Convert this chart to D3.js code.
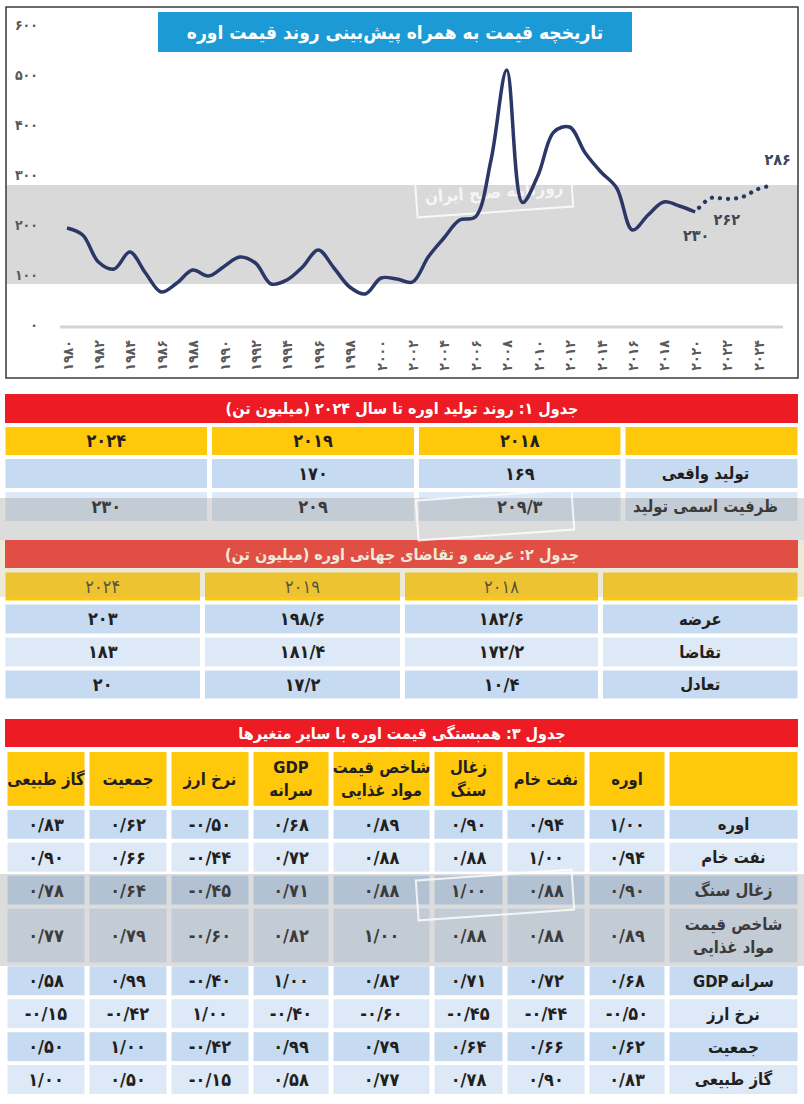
<!DOCTYPE html>
<html><head><meta charset="utf-8">
<script src="https://cdn.jsdelivr.net/npm/d3@7"></script>
<style>
html,body{margin:0;padding:0;background:#fff;}
svg{display:block;font-family:"DejaVu Sans Condensed","DejaVu Sans",sans-serif;}
</style></head><body>
<svg id="c" width="804" height="1104"></svg>
<script>
// ---------- DATA ----------
const chartTitle = "تاریخچه قیمت به همراه پیش‌بینی روند قیمت اوره";
const years = d3.range(1980, 2021);
const prices = [194,180,126,112,146,104,66,84,110,98,117,136,124,82,90,116,150,114,76,62,94,92,86,136,174,210,216,330,510,245,300,386,396,344,306,274,190,220,246,238,226];
const forecastYears = [2020,2021,2022,2023,2024,2025];
const forecastPrices = [226,254,252,256,272,280];
const priceLabels = [230,262,286];
const priceLabelYears = [2020,2022,2025];
const yTicks = [0,100,200,300,400,500,600];
const xTicks = d3.range(1980, 2025, 2);

const t1Title = "جدول ۱: روند تولید اوره تا سال ۲۰۲۴ (میلیون تن)";
const t1Cols = [2018, 2019, 2024];
const t1Rows = ["تولید واقعی", "ظرفیت اسمی تولید"];
const t1Values = [[169, 170, null], [209.3, 209, 230]];

const t2Title = "جدول ۲: عرضه و تقاضای جهانی اوره (میلیون تن)";
const t2Cols = [2018, 2019, 2024];
const t2Rows = ["عرضه", "تقاضا", "تعادل"];
const t2Values = [[182.6, 198.6, 203], [172.2, 181.4, 183], [10.4, 17.2, 20]];

const t3Title = "جدول ۳: همبستگی قیمت اوره با سایر متغیرها";
const t3Head = [["اوره"],["نفت خام"],["زغال","سنگ"],["شاخص قیمت","مواد غذایی"],["GDP","سرانه"],["نرخ ارز"],["جمعیت"],["گاز طبیعی"]];
// a line given as [latin, persian] is drawn with the latin part on the left
const t3RowLabels = [["اوره"],["نفت خام"],["زغال سنگ"],["شاخص قیمت","مواد غذایی"],[["GDP","سرانه"]],["نرخ ارز"],["جمعیت"],["گاز طبیعی"]];
const t3Values = [
  [1.00, 0.94, 0.90, 0.89, 0.68, -0.50, 0.62, 0.83],
  [0.94, 1.00, 0.88, 0.88, 0.72, -0.44, 0.66, 0.90],
  [0.90, 0.88, 1.00, 0.88, 0.71, -0.45, 0.64, 0.78],
  [0.89, 0.88, 0.88, 1.00, 0.82, -0.60, 0.79, 0.77],
  [0.68, 0.72, 0.71, 0.82, 1.00, -0.40, 0.99, 0.58],
  [-0.50, -0.44, -0.45, -0.60, -0.40, 1.00, -0.42, -0.15],
  [0.62, 0.66, 0.64, 0.79, 0.99, -0.42, 1.00, 0.50],
  [0.83, 0.90, 0.78, 0.77, 0.58, -0.15, 0.50, 1.00]
];
const stampText = "روزنامه صبح ایران";

// ---------- HELPERS ----------
const faDigits = "۰۱۲۳۴۵۶۷۸۹";
const fa = s => String(s).replace(/[0-9]/g, d => faDigits[+d]).replace(/\./g, "/");
const LTR = s => "\u202A" + s + "\u202C";
const RTL = s => "\u202B" + s + "\u202C";
const fmt1 = v => v == null ? "" : LTR(fa(Number.isInteger(v) ? v : v.toFixed(1)));
const fmt2 = v => LTR(fa(v.toFixed(2)));

const C = {
  navy: "#2b3766", red: "#ed1c24", yellow: "#ffc80a",
  blueMid: "#c6dbf1", blueLight: "#dde9f6", blueTitle: "#1b9ad6",
  text: "#231f20", axis: "#58595b"
};

const svg = d3.select("#c");

// ---------- CHART ----------
const x = d3.scaleLinear().domain([1980, 2024]).range([67, 758]);
const y = d3.scaleLinear().domain([0, 600]).range([325, 25]);
const chart = svg.append("g");

chart.append("rect").attr("x", 6).attr("y", y(280)).attr("width", 792).attr("height", y(82) - y(280)).attr("fill", "#d9d9da");

function stamp(g, cx, cy, withText) {
  const s = g.append("g").attr("transform", `translate(${cx},${cy}) rotate(-4)`);
  s.append("rect").attr("x", -78).attr("y", -20).attr("width", 156).attr("height", 40)
    .attr("fill", "none").attr("stroke", "#ffffff").attr("stroke-opacity", 0.8).attr("stroke-width", 2);
  if (withText) s.append("text").attr("text-anchor", "middle").attr("dy", "0.35em").attr("direction", "rtl")
    .attr("font-size", 17).attr("font-weight", "bold").attr("fill", "#ffffff").attr("fill-opacity", 0.75)
    .text(RTL(stampText));
}
stamp(chart, 494, 192, true);

chart.append("line").attr("x1", 60).attr("x2", 783).attr("y1", y(0) + 2).attr("y2", y(0) + 2)
  .attr("stroke", "#d3d3d3").attr("stroke-width", 3);

// y axis
const yAxis = chart.append("g").attr("transform", "translate(38,0)")
  .call(d3.axisLeft(y).tickValues(yTicks).tickSize(0).tickFormat(d => fa(d)));
yAxis.select(".domain").remove();
yAxis.selectAll("text").attr("x", 0).attr("text-anchor", "end").attr("fill", C.axis)
  .attr("font-size", 14).attr("font-weight", "bold").attr("font-family", "DejaVu Sans Condensed, DejaVu Sans");

// x axis
const xAxis = chart.append("g").attr("transform", "translate(0,340)")
  .call(d3.axisBottom(x).tickValues(xTicks).tickSize(0).tickFormat(d => fa(d)));
xAxis.select(".domain").remove();
xAxis.selectAll("text").attr("transform", "rotate(-90)").attr("text-anchor", "end")
  .attr("x", 0).attr("y", 0).attr("dy", "0.36em").attr("fill", C.axis)
  .attr("font-size", 14).attr("font-weight", "bold").attr("font-family", "DejaVu Sans Condensed, DejaVu Sans");

// lines
const line = d3.line().x(d => x(d[0])).y(d => y(d[1])).curve(d3.curveCatmullRom.alpha(0.5));
chart.append("path").datum(d3.zip(years, prices)).attr("d", line)
  .attr("fill", "none").attr("stroke", C.navy).attr("stroke-width", 3.5).attr("stroke-linejoin", "round");
chart.append("path").datum(d3.zip(forecastYears, forecastPrices)).attr("d", line)
  .attr("fill", "none").attr("stroke", C.navy).attr("stroke-width", 4.2)
  .attr("stroke-dasharray", "0.1 8").attr("stroke-dashoffset", -6).attr("stroke-linecap", "round");

const labelOffsets = [[1, 15], [0.2, 12], [4, -34]];
chart.selectAll(".plab").data(priceLabels).join("text")
  .attr("x", (d, i) => x(priceLabelYears[i]) + labelOffsets[i][0])
  .attr("y", (d, i) => y(forecastPrices[forecastYears.indexOf(priceLabelYears[i])]) + labelOffsets[i][1] + 14)
  .attr("text-anchor", "middle").attr("font-size", 16).attr("font-weight", "bold").attr("fill", "#3c4659")
  .text(d => fa(d));

// title box
chart.append("rect").attr("x", 158).attr("y", 12).attr("width", 474).attr("height", 40).attr("fill", C.blueTitle);
chart.append("text").attr("x", 395).attr("y", 32).attr("dy", "0.36em").attr("text-anchor", "middle")
  .attr("direction", "rtl").attr("font-size", 19).attr("font-weight", "bold").attr("fill", "#fff").text(RTL(chartTitle));

// frame
chart.append("rect").attr("x", 6).attr("y", 7).attr("width", 792).attr("height", 371)
  .attr("fill", "none").attr("stroke", "#3a3a3a").attr("stroke-width", 1.5);

// ---------- TABLES ----------
function bands(weights, r0, r1) {
  const cum = [0, ...d3.cumsum(weights)];
  const s = d3.scaleLinear().domain([0, cum[cum.length - 1]]).range([r0, r1]);
  return weights.map((w, i) => [s(cum[i]), s(cum[i + 1])]);
}
function titleBar(g, y0, y1, txt, fill) {
  g.append("rect").attr("x", 5).attr("y", y0).attr("width", 793).attr("height", y1 - y0).attr("fill", fill || C.red);
  g.append("text").attr("x", 402).attr("y", (y0 + y1) / 2).attr("dy", "0.36em").attr("text-anchor", "middle")
    .attr("direction", "rtl").attr("font-size", 16).attr("font-weight", "bold").attr("fill", "#fff").text(RTL(txt));
}
function drawGrid(g, colB, rowB, cells, gapX, gapY) {
  const gg = g.append("g");
  cells.forEach(cell => {
    const [ca, cb] = colB[cell.c];
    const [ra, rb] = rowB[cell.r];
    const xl = Math.min(ca, cb) + gapX / 2, xr = Math.max(ca, cb) - gapX / 2;
    const yt = ra + gapY / 2, yb = rb - gapY / 2;
    gg.append("rect").attr("x", xl).attr("y", yt).attr("width", xr - xl).attr("height", yb - yt).attr("fill", cell.fill);
    const n = cell.lines.length;
    const fs = cell.num ? 18 : 16.5;
    cell.lines.forEach((ln, k) => {
      const cx = (xl + xr) / 2 + (cell.dx || 0);
      const cy = (yt + yb) / 2 + (k - (n - 1) / 2) * 23;
      const mk = (xx, anchor, txt, dir) => gg.append("text").attr("x", xx).attr("y", cy)
        .attr("dy", "0.36em").attr("text-anchor", anchor).attr("direction", dir)
        .attr("font-size", fs).attr("font-weight", cell.bold === false ? "normal" : "bold")
        .attr("fill", C.text).text(txt);
      if (Array.isArray(ln)) {
        // [latin, persian]: latin on the left, persian on the right
        const a = mk(0, "start", LTR(ln[0]), "ltr");
        const b = mk(0, "start", RTL(ln[1]), "ltr");
        const wa = a.node().getComputedTextLength(), wb = b.node().getComputedTextLength();
        const sp = 2, left = cx - (wa + sp + wb) / 2;
        a.attr("x", left);
        b.attr("x", left + wa + sp);
      } else {
        mk(cx, "middle", cell.num ? ln : RTL(ln), cell.num ? "ltr" : "rtl");
      }
    });
  });
}

const tables = svg.append("g");

// Table 1
titleBar(tables, 394, 423, t1Title);
{
  const colB = bands([177, 206.5, 207, 206.5], 800, 3);
  const rowB = bands([32, 33, 33], 425, 523);
  const cells = [{ r: 0, c: 0, fill: C.yellow, lines: [] }];
  t1Cols.forEach((yr, j) => cells.push({ r: 0, c: j + 1, fill: C.yellow, lines: [LTR(fa(yr))], num: true }));
  t1Rows.forEach((lab, i) => {
    const fill = i % 2 === 0 ? C.blueMid : C.blueLight;
    cells.push({ r: i + 1, c: 0, fill, lines: [lab], dx: -6 });
    t1Values[i].forEach((v, j) => cells.push({ r: i + 1, c: j + 1, fill, lines: [fmt1(v)], num: true }));
  });
  drawGrid(tables, colB, rowB, cells, 5, 4);
}

// Table 2
titleBar(tables, 540, 568, t2Title);
{
  const colB = bands([199.5, 198, 200, 199.5], 800, 3);
  const rowB = bands([32, 33, 33, 32], 570.5, 700.5);
  const cells = [{ r: 0, c: 0, fill: C.yellow, lines: [] }];
  t2Cols.forEach((yr, j) => cells.push({ r: 0, c: j + 1, fill: C.yellow, lines: [LTR(fa(yr))], num: true, bold: false }));
  t2Rows.forEach((lab, i) => {
    const fill = i % 2 === 0 ? C.blueMid : C.blueLight;
    cells.push({ r: i + 1, c: 0, fill, lines: [lab] });
    t2Values[i].forEach((v, j) => cells.push({ r: i + 1, c: j + 1, fill, lines: [fmt1(v)], num: true }));
  });
  drawGrid(tables, colB, rowB, cells, 5, 4);
}

// Table 3
titleBar(tables, 719, 747, t3Title);
{
  const colB = bands([133, 80, 82, 73, 101, 80, 82, 82, 82], 800, 5);
  const rowB = bands([58, 33, 33, 33, 58, 33, 33, 33, 33], 750, 1096);
  const cells = [{ r: 0, c: 0, fill: C.yellow, lines: [] }];
  t3Head.forEach((h, j) => cells.push({ r: 0, c: j + 1, fill: C.yellow, lines: h }));
  t3RowLabels.forEach((lab, i) => {
    const fill = i % 2 === 0 ? C.blueMid : C.blueLight;
    cells.push({ r: i + 1, c: 0, fill, lines: lab });
    t3Values[i].forEach((v, j) => cells.push({ r: i + 1, c: j + 1, fill, lines: [fmt2(v)], num: true }));
  });
  drawGrid(tables, colB, rowB, cells, 5, 4);
}

// watermark tints over tables
const wm = svg.append("g").attr("pointer-events", "none");
wm.append("rect").attr("x", 0).attr("y", 498).attr("width", 804).attr("height", 42).attr("fill", "#808080").attr("fill-opacity", 0.28);
wm.append("rect").attr("x", 0).attr("y", 540).attr("width", 804).attr("height", 57).attr("fill", "#c8bc88").attr("fill-opacity", 0.32);
wm.append("rect").attr("x", 0).attr("y", 874).attr("width", 804).attr("height", 92).attr("fill", "#808080").attr("fill-opacity", 0.28);
stamp(wm, 495, 515, false);
stamp(wm, 495, 895, false);
</script>
</body></html>
